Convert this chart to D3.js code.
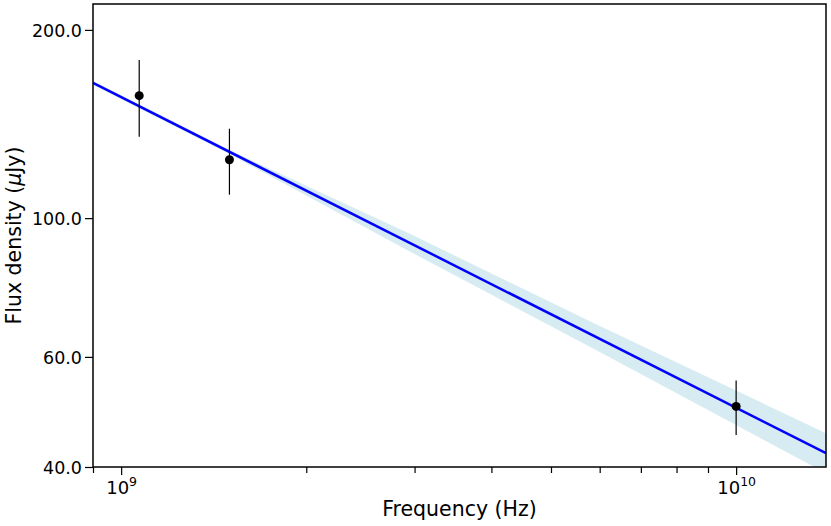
<!DOCTYPE html>
<html>
<head>
<meta charset="utf-8">
<script src="https://cdn.jsdelivr.net/npm/d3@7"></script>
<style>
  body { margin: 0; background: #fff; }
  svg { display: block; font-family: "DejaVu Sans", sans-serif; }
</style>
</head>
<body>
<svg id="chart" width="831" height="526"></svg>
<script>
// measured points (frequency in Hz, flux in uJy)
const obsFreq = [1.07e9, 1.5e9, 1.0e10];
const obsFlux = [157, 124, 50];
const obsErr = [22, 15, 5];

// power-law fit read at the plot edges
const fitFreq = [9e8, 1.4e10];
const fitFlux = [164.5, 42.1];

// uncertainty band
const bandFreq = [9e8, 1.5e9, 3e9, 6e9, 1.4e10];
const bandLow = [163.3, 126.6, 87.6, 61.1, 39.1];
const bandHigh = [165.7, 128.5, 93.6, 67.2, 45.3];

const xMajor = [1e9, 1e10];
const xMinor = [9e8, 2e9, 3e9, 4e9, 5e9, 6e9, 7e9, 8e9, 9e9];
const yTicks = [40, 60, 100, 200];

const svg = d3.select("#chart");
const box = { left: 93, right: 826, top: 4, bottom: 467 };
const FONT = "DejaVu Sans";

const x = d3.scaleLog().domain([9e8, 1.4e10]).range([box.left, box.right]);
const y = d3.scaleLog().domain([40, 220]).range([box.bottom, box.top]);

svg.append("defs").append("clipPath").attr("id", "plot")
  .append("rect").attr("x", box.left).attr("y", box.top)
  .attr("width", box.right - box.left).attr("height", box.bottom - box.top);

const plot = svg.append("g").attr("clip-path", "url(#plot)");

// ! BAND
const band = bandFreq.map((f, i) => ({ f: f, lo: bandLow[i], hi: bandHigh[i] }));
plot.append("path")
  .datum(band)
  .attr("d", d3.area().x(d => x(d.f)).y0(d => y(d.lo)).y1(d => y(d.hi)))
  .attr("fill", "lightblue")
  .attr("fill-opacity", 0.5);

// ! FIT LINE
plot.append("path")
  .datum(fitFreq.map((f, i) => [f, fitFlux[i]]))
  .attr("d", d3.line().x(d => x(d[0])).y(d => y(d[1])))
  .attr("fill", "none")
  .attr("stroke", "#0000ff")
  .attr("stroke-width", 2.5);

// ! ERROR BARS + POINTS
const pts = obsFreq.map((f, i) => ({ f: f, s: obsFlux[i], e: obsErr[i] }));
plot.selectAll("line.err").data(pts).join("line")
  .attr("class", "err")
  .attr("x1", d => x(d.f)).attr("x2", d => x(d.f))
  .attr("y1", d => y(d.s - d.e)).attr("y2", d => y(d.s + d.e))
  .attr("stroke", "#000").attr("stroke-width", 1.2);
plot.selectAll("circle").data(pts).join("circle")
  .attr("cx", d => x(d.f)).attr("cy", d => y(d.s))
  .attr("r", 4.5).attr("fill", "#000");

// ! AXES
const xAxis = svg.append("g").attr("transform", `translate(0,${box.bottom})`);
xAxis.call(d3.axisBottom(x).tickValues(xMinor).tickSize(6).tickFormat(""));
const xMaj = svg.append("g").attr("transform", `translate(0,${box.bottom})`)
  .call(d3.axisBottom(x).tickValues(xMajor).tickSize(8).tickFormat(""));
xMaj.selectAll(".tick").each(function(d) {
  const t = d3.select(this).append("text")
    .attr("y", 27).attr("fill", "#000").attr("text-anchor", "middle")
    .attr("font-size", 18);
  t.append("tspan").text("10");
  t.append("tspan").attr("dy", -8).attr("font-size", 12.5).text(Math.round(Math.log10(d)));
});

const yAxis = svg.append("g").attr("transform", `translate(${box.left},0)`)
  .call(d3.axisLeft(y).tickValues(yTicks).tickSize(8).tickPadding(3).tickFormat(d3.format(".1f")));
yAxis.selectAll("text").attr("font-size", 17.5).attr("fill", "#000").attr("dy", "0.35em");

[xAxis, xMaj, yAxis].forEach(g => {
  g.attr("font-family", FONT).attr("font-size", null);
  g.select(".domain").remove();
  g.selectAll(".tick line").attr("stroke", "#000").attr("stroke-width", 1.2);
});

// frame
svg.append("rect")
  .attr("x", box.left).attr("y", box.top)
  .attr("width", box.right - box.left).attr("height", box.bottom - box.top)
  .attr("fill", "none").attr("stroke", "#000").attr("stroke-width", 1.5);

// ! LABELS
svg.append("text")
  .attr("x", (box.left + box.right) / 2).attr("y", 516)
  .attr("text-anchor", "middle").attr("font-size", 20.5)
  .text("Frequency (Hz)");

const yl = svg.append("text")
  .attr("transform", `translate(21,${(box.top + box.bottom) / 2}) rotate(-90)`)
  .attr("text-anchor", "middle").attr("font-size", 20.5);
yl.append("tspan").text("Flux density (");
yl.append("tspan").attr("font-style", "italic").text("μ");
yl.append("tspan").text("Jy)");
</script>
</body>
</html>
